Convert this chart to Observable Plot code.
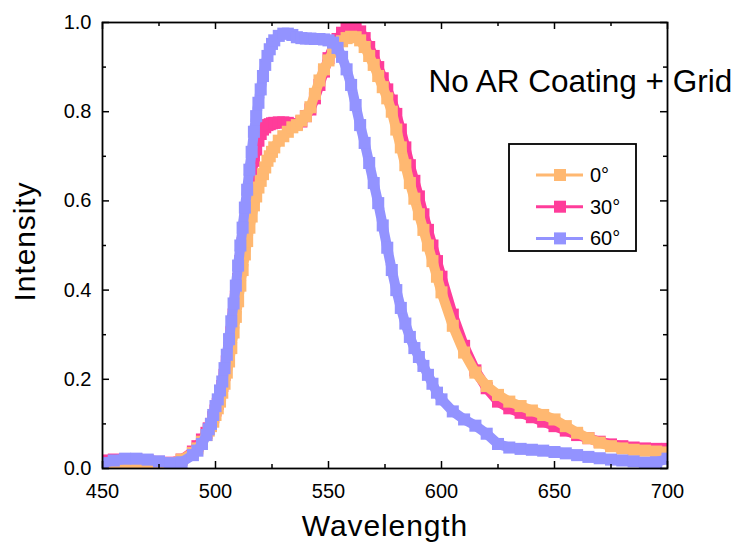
<!DOCTYPE html>
<html>
<head>
<meta charset="utf-8">
<script src="https://cdn.jsdelivr.net/npm/d3@7"></script>
<script src="https://cdn.jsdelivr.net/npm/@observablehq/plot@0.6"></script>
<style>
  html, body { margin: 0; padding: 0; background: white; }
  #chart { width: 737px; height: 544px; }
</style>
</head>
<body>
<div id="chart"></div>
<script>
// ---- data ----
const wavelength = [
  450,455,460,465,470,475,480,485,490,
  492,494,496,
  497,498,499,500,501,502,503,504,505,506,507,508,509,510,511,512,513,514,515,516,517,518,519,520,521,522,523,524,525,526,
  528,530,532,534,536,538,540,542,544,546,548,550,552,554,556,558,560,562,564,566,568,570,572,574,576,578,580,582,584,586,588,590,592,594,596,598,600,
  605,610,615,620,625,630,635,640,645,650,655,660,665,670,675,680,685,690,695,700
];
const intensity0 = [
  0.008,0.008,0.008,0.008,0.008,0.01,0.012,0.02,0.035,
  0.045,0.06,0.075,
  0.085,0.095,0.105,0.12,0.135,0.15,0.17,0.19,0.215,0.24,0.27,0.305,0.34,0.375,0.41,0.445,0.48,0.51,0.54,0.565,0.59,0.61,0.63,0.645,0.66,0.675,0.69,0.7,0.71,0.72,
  0.735,0.745,0.755,0.765,0.77,0.78,0.79,0.81,0.84,0.87,0.895,0.915,0.935,0.948,0.958,0.965,0.968,0.967,0.96,0.945,0.925,0.905,0.88,0.855,0.83,0.8,0.76,0.72,0.68,0.64,0.605,0.57,0.535,0.5,0.465,0.43,0.395,
  0.32,0.26,0.215,0.185,0.165,0.15,0.14,0.13,0.12,0.11,0.095,0.08,0.068,0.058,0.05,0.045,0.042,0.04,0.038,0.036
];
const intensity30 = [
  0.018,0.02,0.02,0.02,0.018,0.015,0.013,0.02,0.038,
  0.05,0.065,0.08,
  0.09,0.1,0.115,0.13,0.145,0.165,0.185,0.21,0.24,0.27,0.305,0.345,0.385,0.425,0.465,0.505,0.545,0.585,0.625,0.66,0.69,0.715,0.735,0.75,0.76,0.765,0.77,0.772,0.774,0.775,
  0.776,0.776,0.775,0.772,0.772,0.778,0.79,0.805,0.83,0.86,0.89,0.92,0.945,0.963,0.977,0.986,0.99,0.988,0.98,0.965,0.945,0.925,0.9,0.875,0.85,0.825,0.795,0.76,0.72,0.68,0.645,0.61,0.57,0.535,0.5,0.465,0.43,
  0.345,0.275,0.22,0.18,0.15,0.135,0.125,0.115,0.105,0.095,0.085,0.075,0.068,0.06,0.054,0.05,0.047,0.045,0.044,0.044
];
const intensity60 = [
  0.012,0.018,0.022,0.022,0.02,0.016,0.012,0.014,0.03,
  0.04,0.055,0.075,
  0.088,0.1,0.12,0.14,0.155,0.175,0.195,0.225,0.255,0.29,0.33,0.37,0.41,0.455,0.5,0.54,0.585,0.625,0.67,0.71,0.755,0.79,0.82,0.85,0.88,0.905,0.925,0.94,0.952,0.96,
  0.97,0.975,0.975,0.972,0.967,0.965,0.964,0.964,0.963,0.963,0.962,0.96,0.955,0.943,0.923,0.895,0.86,0.815,0.77,0.73,0.685,0.64,0.595,0.545,0.495,0.445,0.4,0.36,0.325,0.295,0.27,0.25,0.23,0.21,0.19,0.17,0.155,
  0.128,0.11,0.096,0.078,0.055,0.047,0.044,0.042,0.04,0.037,0.034,0.03,0.026,0.023,0.02,0.018,0.016,0.013,0.014,0.022
];
const seriesNames = ["0°", "30°", "60°"];
const seriesColors = ["#FFB871", "#FF3C9A", "#9393FF"];
const xMajorTicks = [450, 500, 550, 600, 650, 700];
const xMinorTicks = [475, 525, 575, 625, 675];
const yMajorTicks = [0, 0.2, 0.4, 0.6, 0.8, 1.0];
const yMinorTicks = [0.1, 0.3, 0.5, 0.7, 0.9];
const titleText = "No AR Coating + Grid";
const xLabel = "Wavelength";
const yLabel = "Intensity";

// ---- build table ----
const allSeries = [intensity0, intensity30, intensity60];
const data = [];
allSeries.forEach((vals, si) => {
  vals.forEach((v, i) => data.push({ series: seriesNames[si], wl: wavelength[i], value: v }));
});
const bySeries = name => data.filter(d => d.series === name);
// draw order: 30°, 0°, 60°
const drawOrder = ["30°", "0°", "60°"];

const W = 737, H = 544;
const mL = 102, mR = 70, mT = 22, mB = 76;
const innerH = H - mT - mB, innerW = W - mL - mR;
const majorLen = 7, minorLen = 4;
const font = "'Liberation Sans', Arial, sans-serif";

const seriesMarks = [];
for (const name of drawOrder) {
  const color = seriesColors[seriesNames.indexOf(name)];
  const d = bySeries(name);
  seriesMarks.push(Plot.line(d, { x: "wl", y: "value", stroke: color, strokeWidth: 10, clip: true }));
  seriesMarks.push(Plot.dot(d, { x: "wl", y: "value", symbol: "square", r: 6.8, fill: color, stroke: "none", clip: true }));
}

const chart = Plot.plot({
  width: W, height: H,
  marginLeft: mL, marginRight: mR, marginTop: mT, marginBottom: mB,
  style: { fontFamily: font, fontSize: "20px", color: "black", background: "white", overflow: "visible" },
  x: { domain: [450, 700], label: null },
  y: { domain: [0, 1], label: null },
  marks: [
    ...seriesMarks,
    // inward ticks (bottom, top, left, right)
    Plot.ruleX(xMajorTicks, { x: d => d, insetTop: innerH - majorLen, stroke: "black", strokeWidth: 1.5 }),
    Plot.ruleX(xMinorTicks, { x: d => d, insetTop: innerH - minorLen, stroke: "black", strokeWidth: 1.5 }),
    Plot.ruleX(xMajorTicks, { x: d => d, insetBottom: innerH - majorLen, stroke: "black", strokeWidth: 1.5 }),
    Plot.ruleX(xMinorTicks, { x: d => d, insetBottom: innerH - minorLen, stroke: "black", strokeWidth: 1.5 }),
    Plot.ruleY(yMajorTicks, { y: d => d, insetRight: innerW - majorLen, stroke: "black", strokeWidth: 1.5 }),
    Plot.ruleY(yMinorTicks, { y: d => d, insetRight: innerW - minorLen, stroke: "black", strokeWidth: 1.5 }),
    Plot.ruleY(yMajorTicks, { y: d => d, insetLeft: innerW - majorLen, stroke: "black", strokeWidth: 1.5 }),
    Plot.ruleY(yMinorTicks, { y: d => d, insetLeft: innerW - minorLen, stroke: "black", strokeWidth: 1.5 }),
    Plot.frame({ stroke: "black", strokeWidth: 1.8 }),
    Plot.axisX({ ticks: xMajorTicks, tickSize: 0, tickPadding: 15, tickFormat: d3.format("d"), fontSize: 20, label: null }),
    Plot.axisY({ ticks: yMajorTicks, tickSize: 0, tickPadding: 11, tickFormat: d3.format(".1f"), fontSize: 20, label: null }),
    Plot.text([xLabel], { text: d => d, frameAnchor: "bottom", textAnchor: "middle", dy: 58, lineAnchor: "middle", fontSize: 30, fill: "black" }),
    Plot.text([yLabel], { text: d => d, frameAnchor: "left", textAnchor: "middle", dx: -77, dy: -4, rotate: -90, lineAnchor: "middle", fontSize: 30, fill: "black" }),
    Plot.text([titleText], { text: d => d, frameAnchor: "top-left", dx: 326, dy: 59, textAnchor: "start", lineAnchor: "middle", fontSize: 31.5, fill: "black" })
  ]
});
document.getElementById("chart").appendChild(chart);

// letter spacing for axis titles
d3.select(chart).selectAll("text").filter(function () { return this.textContent === xLabel || this.textContent === yLabel; })
  .style("letter-spacing", "0.9px");

// ---- legend (drawn into the plot's svg) ----
const svg = d3.select(chart);
const lg = svg.append("g").attr("transform", `translate(${mL + 407},${mT + 122})`);
lg.append("rect").attr("x", 0).attr("y", 0).attr("width", 127).attr("height", 107)
  .attr("fill", "white").attr("stroke", "black").attr("stroke-width", 1.8);
seriesNames.forEach((name, i) => {
  const cy = 31 + i * 31.7;
  const row = lg.append("g").attr("transform", `translate(0,${cy})`);
  row.append("line").attr("x1", 27).attr("x2", 74).attr("y1", 0).attr("y2", 0)
    .attr("stroke", seriesColors[i]).attr("stroke-width", 3);
  row.append("rect").attr("x", 45).attr("y", -6).attr("width", 12).attr("height", 12)
    .attr("fill", seriesColors[i]);
  row.append("text").attr("x", 81).attr("y", 0).attr("dy", "0.35em")
    .attr("text-anchor", "start")
    .attr("font-family", font).attr("font-size", 20).attr("fill", "black").text(name);
});
</script>
</body>
</html>
